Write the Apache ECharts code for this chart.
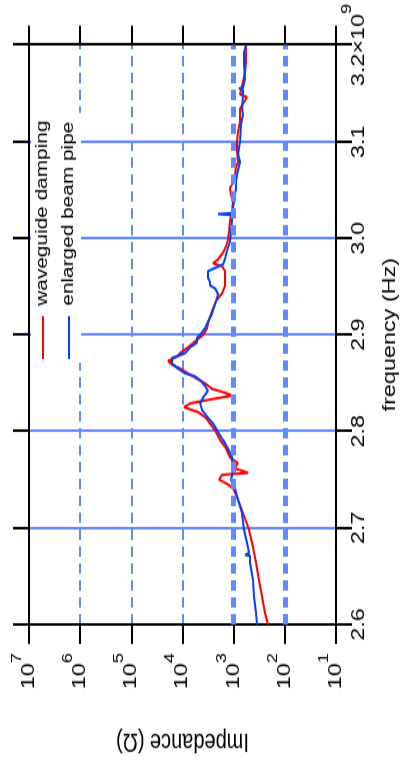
<!DOCTYPE html>
<html><head><meta charset="utf-8">
<script src="https://cdn.jsdelivr.net/npm/echarts/dist/echarts.min.js"></script>
<style>
html,body{margin:0;padding:0;background:#fff;overflow:hidden;width:406px;height:765px;}
#wrap{position:absolute;left:0;top:0;width:588px;height:406px;transform-origin:0 0;transform:translate(0px,765px) rotate(-90deg) scale(1.30102,1);}
#chart{width:588px;height:406px;}
</style></head><body>
<div id="wrap"><div id="chart"></div></div>
<script>
// frequency in GHz (axis shows x10^9 Hz), impedance in Ohm
const freqLabels = ['2.6','2.7','2.8','2.9','3.0','3.1','3.2'];
const freqMultiplierExp = '9';
const impedanceExps = [1,2,3,4,5,6,7];
const legendNames = ['waveguide damping','enlarged beam pipe'];

const redFreq = [2.600,2.612,2.629,2.646,2.664,2.680,2.698,2.715,2.732,2.741,2.745,2.750,2.755,2.757,2.762,2.767,2.773,2.784,2.791,2.801,2.808,2.814,2.820,2.825,2.829,2.833,2.837,2.840,2.844,2.849,2.855,2.860,2.865,2.869,2.873,2.878,2.881,2.887,2.894,2.900,2.907,2.916,2.925,2.935,2.943,2.951,2.959,2.966,2.971,2.974,2.978,2.985,2.992,2.999,3.007,3.018,3.028,3.038,3.045,3.052,3.059,3.066,3.074,3.079,3.090,3.100,3.110,3.121,3.134,3.146,3.149,3.162,3.172,3.182,3.193,3.200];
const redZ    = [213,244,279,319,365,418,500,655,858,1028,1286,1930,1685,523,982,820,1176,1472,1843,2307,2888,3459,4957,9300,7112,2888,1075,1472,2640,3459,5423,7780,11140,16000,19100,12190,11140,7780,5423,3959,3307,3020,2640,2206,1685,1472,1472,1472,1685,2524,2016,1610,1407,1286,1230,1176,1075,1028,1125,1176,982,939,898,820,858,858,820,750,750,547,750,655,599,573,573,573];

const blueFreq = [2.600,2.612,2.629,2.646,2.664,2.671,2.672,2.674,2.680,2.698,2.715,2.732,2.741,2.749,2.760,2.765,2.773,2.784,2.791,2.801,2.808,2.814,2.822,2.829,2.835,2.842,2.847,2.853,2.857,2.860,2.865,2.870,2.876,2.881,2.887,2.892,2.897,2.901,2.907,2.914,2.922,2.932,2.942,2.948,2.951,2.954,2.959,2.966,2.973,2.979,2.987,2.997,3.007,3.018,3.024,3.025,3.026,3.038,3.045,3.052,3.059,3.066,3.079,3.087,3.100,3.118,3.128,3.134,3.148,3.154,3.155,3.156,3.165,3.182,3.193,3.200];
const blueZ    = [350,365,400,418,478,478,599,500,523,626,685,858,939,1125,1028,1075,1075,1346,1610,2109,2524,3162,4141,4530,3959,3162,3618,4530,5672,8892,12190,15960,15960,8892,7112,5185,5185,4331,3618,3162,2640,2307,2016,2307,2888,2888,3162,3162,1610,1472,1346,1176,1125,1075,1075,2016,1075,982,939,898,898,858,750,820,750,717,655,685,655,655,785,655,599,626,626,573];

const zip = (a,b) => a.map((v,i)=>[v,b[i]]);
const FONT = 'Liberation Sans, Arial, sans-serif';
const GRIDC = '#6489ff';
const RED = '#ff0000', BLUE = '#0040ff';
const richTicks = {
  n:{fontSize:18,lineHeight:18,verticalAlign:'bottom',color:'#000',fontFamily:FONT},
  e:{fontSize:14,lineHeight:14,padding:[0,0,14,0],verticalAlign:'bottom',color:'#000',fontFamily:FONT}
};
const axisLineStyle = {color:'#000',width:2};

const chart = echarts.init(document.getElementById('chart'), null, {renderer:'canvas'});
chart.setOption({
  animation:false,
  backgroundColor:'#fff',
  textStyle:{fontFamily:FONT},
  grid:{left:108,right:33,top:29,bottom:70},
  legend:{
    data:[{name:legendNames[0],icon:'rect'},{name:legendNames[1],icon:'rect'}],
    orient:'vertical', left:309, top:31,
    itemWidth:33, itemHeight:2, itemGap:10,
    backgroundColor:'#fff', padding:[4,6,4,3],
    textStyle:{fontSize:16,color:'#000',fontFamily:FONT,padding:[0,0,0,3],lineHeight:16}
  },
  xAxis:[{
    type:'value',min:2.6,max:3.2,interval:0.1,position:'bottom',
    axisLine:{lineStyle:axisLineStyle},
    axisTick:{length:16,lineStyle:axisLineStyle},
    axisLabel:{margin:14,showMinLabel:true,showMaxLabel:true,rich:richTicks,
      formatter:(v)=>{const i=Math.round((v-2.6)/0.1);const s=freqLabels[i];
        return i===freqLabels.length-1 ? '{n|'+s+'×10}{e|'+freqMultiplierExp+'}' : '{n|'+s+'}{e|\u200b}';}},
    splitLine:{show:true,lineStyle:{color:GRIDC,width:2}},
    name:'frequency (Hz)',nameLocation:'middle',nameGap:45,
    nameTextStyle:{fontSize:18,color:'#000',fontFamily:FONT}
  },{
    type:'value',min:2.6,max:3.2,interval:0.1,position:'top',
    axisLine:{lineStyle:axisLineStyle},
    axisTick:{length:16,lineStyle:axisLineStyle},
    axisLabel:{show:false},splitLine:{show:false}
  }],
  yAxis:[{
    type:'log',logBase:10,min:10,max:1e7,splitNumber:6,position:'left',
    axisLine:{lineStyle:axisLineStyle},
    axisTick:{length:15,lineStyle:axisLineStyle},
    axisLabel:{margin:22,rich:richTicks,
      formatter:(v)=>'{n|10}{e|'+impedanceExps[Math.round(Math.log10(v))-1]+'}'},
    splitLine:{show:true,lineStyle:{color:GRIDC,width:2,type:[8,5]}},
    minorTick:{show:false},
    name:'Impedance (Ω)',nameLocation:'middle',nameRotate:90,nameGap:80,
    nameTextStyle:{fontSize:20,color:'#000',fontFamily:FONT}
  },{
    type:'log',logBase:10,min:10,max:1e7,splitNumber:6,position:'right',
    axisLine:{lineStyle:axisLineStyle},
    axisTick:{length:15,lineStyle:axisLineStyle},
    axisLabel:{show:false},splitLine:{show:false}
  }],
  series:[
    {type:'line',name:'gridaccent',data:[],z:1,silent:true,
      markLine:{silent:true,symbol:'none',label:{show:false},animation:false,
        lineStyle:{color:GRIDC,width:5,type:[8,5]},
        data:[{yAxis:100},{yAxis:1000}]}},
    {type:'line',name:legendNames[0],data:zip(redFreq,redZ),symbol:'none',z:2,
      lineStyle:{color:RED,width:2},itemStyle:{color:RED}},
    {type:'line',name:legendNames[1],data:zip(blueFreq,blueZ),symbol:'none',z:3,
      lineStyle:{color:BLUE,width:2},itemStyle:{color:BLUE}}
  ]
});
</script>
</body></html>
